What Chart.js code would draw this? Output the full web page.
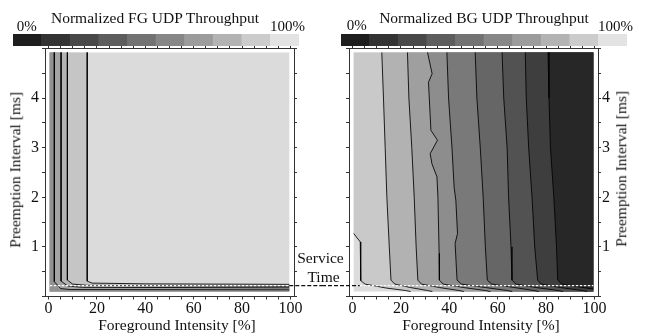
<!DOCTYPE html>
<html>
<head>
<meta charset="utf-8">
<script src="https://cdn.jsdelivr.net/npm/chart.js@4.4.1/dist/chart.umd.min.js"></script>
<style>
html,body{margin:0;padding:0;background:#fff;}
body{width:645px;height:333px;position:relative;overflow:hidden;font-family:"Liberation Serif","Times New Roman",serif;color:#111;}
canvas{position:absolute;display:block;}
.t{position:absolute;width:300px;height:16px;white-space:nowrap;line-height:1;font-size:15.5px;text-align:center;}
.r{transform:rotate(-90deg);transform-origin:50% 50%;}
</style>
</head>
<body>
<canvas id="plotFG" width="322" height="333" style="left:0;top:0"></canvas>
<canvas id="plotBG" width="323" height="333" style="left:322px;top:0"></canvas>
<canvas id="barFG" width="286" height="12" style="left:13px;top:34px"></canvas>
<canvas id="barBG" width="286" height="12" style="left:341px;top:34px"></canvas>

<div class="t" style="left:5px;top:10.3px">Normalized FG UDP Throughput</div>
<div class="t" style="left:334px;top:10px">Normalized BG UDP Throughput</div>
<div class="t" style="left:-123.3px;top:19px;font-size:15px">0%</div>
<div class="t" style="left:137.5px;top:19px;font-size:15px">100%</div>
<div class="t" style="left:206.7px;top:18.4px;font-size:15px">0%</div>
<div class="t" style="left:465.5px;top:19px;font-size:15px">100%</div>
<div class="t" style="left:27px;top:316.5px">Foreground Intensity [%]</div>
<div class="t" style="left:331px;top:316.5px">Foreground Intensity [%]</div>
<div class="t r" style="left:-135px;top:162.2px;height:15.5px">Preemption Interval [ms]</div>
<div class="t r" style="left:471px;top:161px;height:15.5px">Preemption Interval [ms]</div>
<div class="t" style="left:170.5px;top:250px">Service</div>
<div class="t" style="left:173.5px;top:268.7px">Time</div>

<script>
// ---------------- DATA ----------------
const xTickValues = [0,5,10,15,20,25,30,35,40,45,50,55,60,65,70,75,80,85,90,95,100];
const xTickLabels = [0,20,40,60,80,100];
const yTickValues = [0,0.5,1,1.5,2,2.5,3,3.5,4,4.5,5];
const yTickLabels = [1,2,3,4];

// colour bar: ten 10%-bands of normalized throughput
const colorbarBands = ['0-10%','10-20%','20-30%','30-40%','40-50%','50-60%','60-70%','70-80%','80-90%','90-100%'];
const colorbarShare = [10,10,10,10,10,10,10,10,10,10];
const colorbarColors = ['#1e1e1e','#333333','#484848','#5d5d5d','#727272','#878787','#9c9c9c','#b3b3b3','#cccccc','#e3e3e3'];

// measured grid extent (intensity %, preemption interval ms)
const gridX = [0.5, 99.5];
const gridY = [0.1, 4.92];
const serviceTime = 0.22;

// FG throughput contour lines (x = intensity %, y = interval ms); darker towards left / bottom
const fgLine1 = [{x:2.4,y:4.92},{x:2.4,y:0.30},{x:5,y:0.16},{x:9,y:0.14},{x:99.5,y:0.135}];
const fgLine2 = [{x:5.2,y:4.92},{x:5.2,y:0.31},{x:8,y:0.21},{x:14,y:0.185},{x:99.5,y:0.175}];
const fgLine3 = [{x:7.8,y:4.92},{x:7.8,y:0.33},{x:10,y:0.25},{x:16,y:0.225},{x:99.5,y:0.205}];
const fgLine4 = [{x:16.0,y:4.92},{x:16.0,y:0.31},{x:18,y:0.27},{x:40,y:0.255},{x:99.5,y:0.245}];
const fgLines = [fgLine4, fgLine3, fgLine2, fgLine1];
const fgColors = ['#dbdbdb','#c5c5c5','#b3b3b3','#a4a4a4','#929292'];

// BG throughput contour lines; darker towards right
const bgLine0 = [{x:0.5,y:1.27},{x:3.2,y:1.1},{x:3.4,y:0.32},{x:5.2,y:0.25},{x:14,y:0.17},{x:22,y:0.12},{x:24,y:0.1}];
const bgLine1 = [{x:12.1,y:4.92},{x:12.8,y:4.0},{x:13.5,y:3.0},{x:14.2,y:2.0},{x:15.2,y:1.0},{x:15.9,y:0.33},{x:17.5,y:0.25},{x:24,y:0.18},{x:31,y:0.12},{x:33,y:0.1}];
const bgLine2 = [{x:22.7,y:4.92},{x:23.3,y:4.0},{x:24.5,y:3.0},{x:25.5,y:2.0},{x:26.3,y:1.0},{x:27.0,y:0.33},{x:28.5,y:0.25},{x:36,y:0.18},{x:44,y:0.12},{x:46,y:0.1}];
const bgLine3 = [{x:31.0,y:4.92},{x:32.9,y:4.49},{x:31.4,y:4.32},{x:32.4,y:3.35},{x:35.1,y:3.15},{x:32.1,y:2.88},{x:32.8,y:2.68},{x:34.9,y:2.41},{x:35.3,y:2.0},{x:35.8,y:0.87},{x:35.9,y:0.33},{x:37.5,y:0.25},{x:46,y:0.18},{x:55,y:0.12},{x:57,y:0.1}];
const bgLine4 = [{x:39.0,y:4.92},{x:39.7,y:4.0},{x:41.1,y:3.0},{x:42.0,y:2.2},{x:42.7,y:1.94},{x:43.4,y:1.27},{x:42.4,y:1.07},{x:43.2,y:0.33},{x:45,y:0.25},{x:55,y:0.18},{x:64,y:0.12},{x:66,y:0.1}];
const bgLine5 = [{x:50.7,y:4.92},{x:51.4,y:4.0},{x:52.8,y:3.0},{x:54.0,y:2.0},{x:54.9,y:1.0},{x:55.7,y:0.33},{x:57.5,y:0.25},{x:67,y:0.18},{x:75,y:0.12},{x:77,y:0.1}];
const bgLine6 = [{x:61.8,y:4.92},{x:62.5,y:4.0},{x:63.9,y:3.0},{x:64.5,y:2.0},{x:65.5,y:1.0},{x:65.9,y:0.33},{x:67.5,y:0.25},{x:76,y:0.18},{x:85,y:0.12},{x:87,y:0.1}];
const bgLine7 = [{x:71.4,y:4.92},{x:71.8,y:4.0},{x:72.8,y:3.0},{x:74.2,y:2.0},{x:75.3,y:1.0},{x:76.5,y:0.33},{x:78,y:0.25},{x:86,y:0.18},{x:95,y:0.12},{x:97,y:0.1}];
const bgLine8 = [{x:80.8,y:4.92},{x:81.2,y:4.0},{x:81.8,y:3.0},{x:83.2,y:2.0},{x:84.3,y:1.0},{x:84.8,y:0.33},{x:86.5,y:0.25},{x:94,y:0.19},{x:99.5,y:0.15}];
const bgLines = [bgLine0,bgLine1,bgLine2,bgLine3,bgLine4,bgLine5,bgLine6,bgLine7,bgLine8];
const bgColors = ['#dcdcdc','#c9c9c9','#b2b2b2','#9f9f9f','#8d8d8d','#797979','#666666','#525252','#3e3e3e','#272727'];

// ---------------- CHART SETUP ----------------
Chart.defaults.font.family = "'Liberation Serif','Times New Roman',serif";
Chart.defaults.font.size = 16;
Chart.defaults.color = '#111';

const X_MIN = -1.45, X_MAX = 101.45, Y_MIN = 0, Y_MAX = 5;
const frameColor = '#333';

function rect() {
  return [{x:gridX[0],y:gridY[1]},{x:gridX[1],y:gridY[1]},{x:gridX[1],y:gridY[0]},{x:gridX[0],y:gridY[0]}];
}
function fgPoly(line) { // region left of / below the contour
  return [{x:gridX[0],y:gridY[1]}, ...line, {x:gridX[1],y:gridY[0]}, {x:gridX[0],y:gridY[0]}];
}
function bgPoly(line) { // region right of the contour
  const pts = [];
  if (line[0].y < gridY[1] - 1e-6) pts.push({x:gridX[0],y:gridY[1]});
  pts.push(...line);
  const last = line[line.length-1];
  if (last.x < gridX[1] - 1e-6) pts.push({x:gridX[1],y:gridY[0]});
  pts.push({x:gridX[1],y:gridY[1]});
  return pts;
}
function fillDs(points, color, order) {
  return {data: points, fill: 'shape', backgroundColor: color, borderColor: 'transparent', borderWidth: 0, pointRadius: 0, tension: 0, order};
}
function lineDs(points, order) {
  return {data: points, fill: false, borderColor: 'rgba(0,0,0,0.85)', borderWidth: 1, pointRadius: 0, tension: 0, order};
}
function dashDs(points, color, dash, order, clip) {
  const d = {data: points, fill: false, borderColor: color, borderWidth: 1.2, borderDash: dash, pointRadius: 0, order};
  if (clip === false) d.clip = false;
  return d;
}
function xAxis(pos, labeled, h) {
  return {
    type: 'linear', position: pos, min: X_MIN, max: X_MAX,
    afterBuildTicks: s => { s.ticks = xTickValues.map(v => ({value: v})); },
    afterFit: s => { s.height = h; },
    ticks: {autoSkip: false, maxRotation: 0, minRotation: 0, padding: 0, color: '#111', font: {size: 16},
      callback: v => (labeled && xTickLabels.includes(v)) ? String(v) : ''},
    grid: {drawOnChartArea: false, drawTicks: true, tickLength: 3, tickColor: frameColor},
    border: {display: true, color: frameColor, width: 1}
  };
}
function yAxis(pos, labeled, w, pad) {
  return {
    type: 'linear', position: pos, min: Y_MIN, max: Y_MAX,
    afterBuildTicks: s => { s.ticks = yTickValues.map(v => ({value: v})); },
    afterFit: s => { s.width = w; },
    ticks: {autoSkip: false, padding: pad, color: '#111', font: {size: 16},
      callback: v => (labeled && yTickLabels.includes(v)) ? String(v) : ''},
    grid: {drawOnChartArea: false, drawTicks: true, tickLength: 3, tickColor: frameColor},
    border: {display: true, color: frameColor, width: 1}
  };
}
function baseOptions(scales) {
  return {
    responsive: false, maintainAspectRatio: false, animation: false, devicePixelRatio: 1, events: [],
    layout: {padding: 0, autoPadding: false},
    plugins: {legend: {display: false}, tooltip: {enabled: false}, title: {display: false}},
    scales
  };
}

// ---- FG plot ----
const fgDatasets = [fillDs(rect(), fgColors[0], 100)];
fgLines.forEach((ln, i) => fgDatasets.push(fillDs(fgPoly(ln), fgColors[i+1], 90 - i)));
fgLines.forEach(ln => fgDatasets.push(lineDs(ln, 20)));
fgDatasets.push(dashDs([{x:gridX[0],y:serviceTime},{x:gridX[1],y:serviceTime}], '#ffffff', [2.5,1.5], 5));
fgDatasets.push(dashDs([{x:gridX[1],y:serviceTime},{x:113,y:serviceTime}], '#111111', [4,2], 4, false));

new Chart(document.getElementById('plotFG'), {
  type: 'line',
  data: {datasets: fgDatasets},
  options: baseOptions({
    x: xAxis('bottom', true, 36.5),
    x2: xAxis('top', false, 48.5),
    y: yAxis('left', true, 45, 3),
    y2: yAxis('right', false, 28, 1)
  })
});

// ---- BG plot ----
const bgDatasets = [fillDs(rect(), bgColors[0], 100)];
bgLines.forEach((ln, i) => bgDatasets.push(fillDs(bgPoly(ln), bgColors[i+1], 90 - i)));
bgLines.forEach(ln => bgDatasets.push(lineDs(ln, 20)));
bgDatasets.push(dashDs([{x:3,y:serviceTime},{x:gridX[1],y:serviceTime}], '#ffffff', [2.5,1.5], 5));
bgDatasets.push(dashDs([{x:-12.6,y:serviceTime},{x:3,y:serviceTime}], '#111111', [4,2], 4, false));

new Chart(document.getElementById('plotBG'), {
  type: 'line',
  data: {datasets: bgDatasets},
  options: baseOptions({
    x: xAxis('bottom', true, 36.5),
    x2: xAxis('top', false, 48.5),
    y: yAxis('left', false, 27, 3),
    y2: yAxis('right', true, 47, 1)
  })
});

// ---- colour bars ----
function colorbar(id) {
  new Chart(document.getElementById(id), {
    type: 'bar',
    data: {labels: colorbarBands, datasets: [{data: colorbarShare, backgroundColor: colorbarColors, borderWidth: 0, barPercentage: 1, categoryPercentage: 1}]},
    options: baseOptions({x: {display: false}, y: {display: false, min: 0, max: 10}})
  });
}
colorbar('barFG');
colorbar('barBG');
</script>
</body>
</html>
